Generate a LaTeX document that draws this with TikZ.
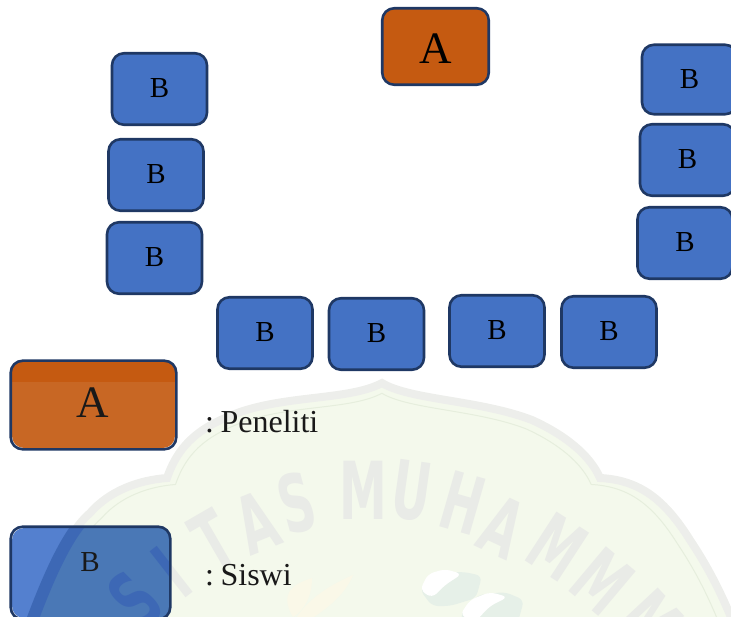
\documentclass[tikz,border=0pt]{standalone}
\usepackage{fontspec}
\setmainfont{Liberation Serif}
\newfontfamily\wmfont{DejaVu Sans}
\definecolor{bluefill}{HTML}{4472C4}
\definecolor{orangefill}{HTML}{C55A11}
\definecolor{orangesoft}{HTML}{C86724}
\definecolor{edgecol}{HTML}{1F3864}
\definecolor{wmgreen}{HTML}{F4F9EC}
\definecolor{wmband}{HTML}{EDEEEB}
\definecolor{wmline}{HTML}{E6EEDD}
\definecolor{wmtext}{HTML}{E9EBE7}
\definecolor{wmleaf}{HTML}{FAF8E8}
\definecolor{wmshade}{HTML}{E6F0E8}
\definecolor{legblue}{HTML}{5480CF}
\definecolor{legbluewm}{HTML}{4A78B6}
\definecolor{legblueband}{HTML}{3D68B5}
\def\wmoutline{(25,640) .. controls (50,570) and (70,530) .. (90,513) .. controls (110,490) and (140,480) .. (167,478) .. controls (180,440) and (205,425) .. (240,412) .. controls (290,395) and (350,400) .. (382,383) .. controls (410,400) and (480,400) .. (532,420) .. controls (565,435) and (590,455) .. (600,478) .. controls (640,480) and (665,500) .. (690,540) .. controls (710,570) and (725,600) .. (740,640) -- cycle}
\newcommand\Bup{\raisebox{1.5pt}[.66em][0pt]{B}}
\newcommand\Adown{\raisebox{-2pt}[.66em][0pt]{A}}
\tikzset{
  boxbase/.style={draw=edgecol,line width=2.6pt,rounded corners=12pt,inner sep=0pt,text=black,anchor=center},
  studentbox/.style={boxbase,fill=bluefill,minimum width=95pt,minimum height=71.5pt,font=\fontsize{29}{29}\selectfont},
  researcherbox/.style={boxbase,fill=orangefill,minimum width=106.5pt,minimum height=76.5pt,font=\fontsize{45}{45}\selectfont},
  legendtext/.style={anchor=base west,inner sep=0pt,text=black!90,font=\fontsize{32}{32}\selectfont},
  wmletter/.style={inner sep=0pt,font=\wmfont\bfseries\fontsize{80}{80}\selectfont},
}
\newcommand\wmletters[1]{%
\foreach \p/\q/\r/\l in {135/600/45/S,172/572/38/I,213/540/30/T,257/523/22/A,297/503/15/S,363/490/0/M,412/491/-8/U,463/503/-16/H,503/527/-25/A,557/547/-33/M,603/582/-40/M,650/622/-47/M}
  \node[wmletter,text=#1,rotate=\r] at (\p,\q) {\scalebox{.6}[1]{\l}};}
\begin{document}
\begin{tikzpicture}[x=1pt,y=-1pt]
\useasboundingbox (0,0) rectangle (731,617);
\begin{scope}
\clip (0,0) rectangle (731,617);
% watermark
\fill[wmgreen] \wmoutline;
\draw[wmband,line width=8pt] \wmoutline;
\begin{scope}[shift={(380,640)},scale=.96,shift={(-380,-640)}]
\draw[wmline,line width=1pt] \wmoutline;
\end{scope}
\wmletters{wmtext}
\fill[wmshade,rounded corners=6pt] (420,590) -- (432,573) -- (465,572) -- (482,576) -- (476,598) -- (450,606) -- (432,606) -- cycle;
\fill[white,rounded corners=6pt] (420,590) -- (428,574) -- (445,569) -- (462,574) -- (445,585) -- (432,598) -- cycle;
\fill[wmshade,rounded corners=6pt] (460,615) -- (478,595) -- (505,592) -- (524,600) -- (518,622) -- (465,625) -- cycle;
\fill[white,rounded corners=6pt] (460,615) -- (470,600) -- (490,592) -- (508,597) -- (490,606) -- (475,622) -- cycle;
\fill[wmleaf] (293,617) .. controls (280,595) and (290,585) .. (312,578) .. controls (312,595) and (305,610) .. (293,617) -- cycle;
\fill[wmleaf] (292,625) .. controls (305,600) and (330,585) .. (353,575) .. controls (345,595) and (325,612) .. (295,628) -- cycle;
% top
\node[researcherbox] (a0) at (435.5,46.5) {\Adown};
\node[studentbox] (b1) at (159.5,89) {\Bup};
\node[studentbox] (b2) at (156,175) {\Bup};
\node[studentbox] (b3) at (154.5,258) {\Bup};
\node[studentbox] (b4) at (265,333) {\Bup};
\node[studentbox] (b5) at (376.5,334) {\Bup};
\node[studentbox] (b6) at (497,331) {\Bup};
\node[studentbox] (b7) at (609,332) {\Bup};
\node[studentbox,minimum height=69.5pt] (b8) at (689.5,79.5) {B};
\node[studentbox] (b9) at (687.5,160) {\Bup};
\node[studentbox] (b10) at (685,243) {\Bup};
% legend researcher
\node[researcherbox,draw=none,fill=orangesoft,minimum width=163pt,minimum height=86pt] (la) at (93.5,405) {};
\begin{scope}
\clip (10,360) rectangle (178,382);
\fill[orangefill,rounded corners=12pt] (la.north west) rectangle (la.south east);
\end{scope}
\draw[edgecol,line width=2.6pt,rounded corners=12pt] (la.north west) rectangle (la.south east);
\node[inner sep=0pt,text=black!90,font=\fontsize{45}{45}\selectfont] (lat) at (93,403) {A};
\node[legendtext] (lp) at (205,432) {:\hspace{6.5pt}Peneliti};
% legend student
\node[studentbox,draw=none,fill=legblue,minimum width=157pt,minimum height=90pt] (lb) at (90.5,573) {};
\begin{scope}
\clip[rounded corners=12pt] (lb.north west) rectangle (lb.south east);
\fill[legbluewm] \wmoutline;
\draw[legblueband,line width=12pt] \wmoutline;
\wmletters{legblueband}
\end{scope}
\draw[edgecol,line width=2.6pt,rounded corners=12pt] (lb.north west) rectangle (lb.south east);
\node[inner sep=0pt,text=black!90,font=\fontsize{29}{29}\selectfont] (lbt) at (90,562) {B};
\node[legendtext] (ls) at (205,585) {:\hspace{6.5pt}Siswi};
\end{scope}
\end{tikzpicture}
\end{document}
